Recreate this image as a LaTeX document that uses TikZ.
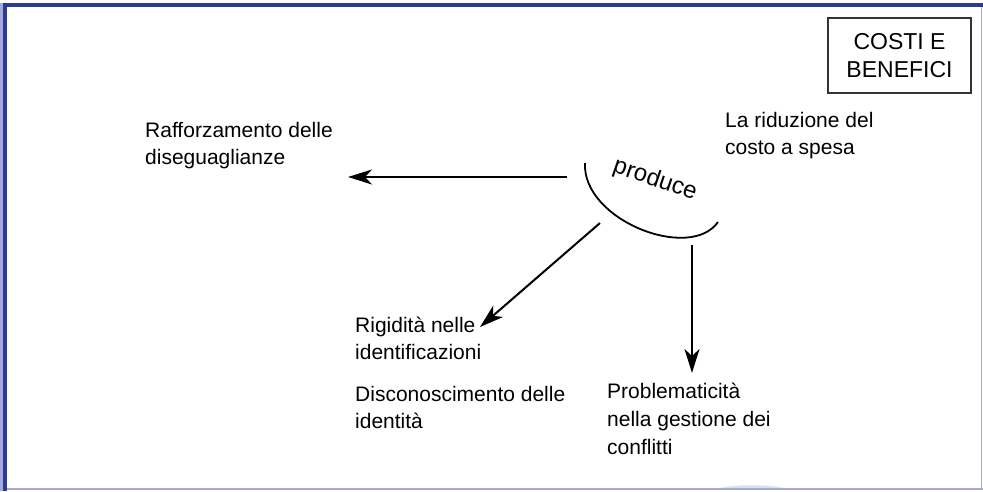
\documentclass[tikz,border=0pt]{standalone}
\usepackage{fontspec}
\setmainfont{Liberation Sans}
\usetikzlibrary{positioning, arrows.meta}
\definecolor{frameblue}{HTML}{2E3B96}
\definecolor{framelav}{HTML}{A6AAD8}
\definecolor{shadelav}{HTML}{DDDEF1}

\begin{document}
\begin{tikzpicture}[x=1pt, y=-1pt, >={Stealth[length=24pt, width=15pt, inset=7pt]},
    txt/.style={anchor=north west, inner sep=0pt, align=left, font=\fontsize{21}{27}\selectfont},
    link/.style={->, line width=2pt}]
    \useasboundingbox (0,0) rectangle (983,491);
    % frame
    \fill[framelav] (0,3) rectangle (3,491);
    \fill[frameblue] (3,3) rectangle (983,7);
    \fill[frameblue] (3,3) rectangle (7,491);
    \fill[shadelav] (717,489) .. controls (730,484) and (774,484) .. (787,489) -- cycle;
    \draw[framelav, line width=1.5pt] (7,489.2) -- (983,489.2) (981.7,7) -- (981.7,489.2);
    % title
    \node[draw=black!80, line width=1.1pt, minimum width=143pt, minimum height=75pt, align=center,
          font=\fontsize{23}{28}\selectfont] (cb) at (899.5,55.5) {COSTI E\\BENEFICI};
    % texts
    \node[txt] (rid) at (725,112) {La riduzione del\\costo a spesa};
    \node[txt] (raf) at (145,122) {Rafforzamento delle\\diseguaglianze};
    \node[txt] (rig) at (355,317) {Rigidità nelle\\identificazioni};
    \node[txt, below=26pt of rig.south west, anchor=north west] (dis) {Disconoscimento delle\\identità};
    \node[txt, font=\fontsize{21}{28}\selectfont] (pro) at (607,383) {Problematicità\\nella gestione dei\\conflitti};
    % produce
    \node[rotate=-19, inner sep=0pt, font=\fontsize{24}{26}\selectfont] (prod) at (655,180) {produce};
    \draw[line width=1.8pt] (585,163) .. controls (582,220) and (690,262) .. (718,222);
    \coordinate (fraf) at (567,177);
    \coordinate (traf) at (348,177);
    \coordinate (frig) at (600,223);
    \coordinate (trig) at (480,327);
    \coordinate (fpro) at (692,245);
    \coordinate (tpro) at (692,373);
    \draw[link] (fraf) -- (traf);
    \draw[link] (frig) -- (trig);
    \draw[link] (fpro) -- (tpro);
\end{tikzpicture}
\end{document}
